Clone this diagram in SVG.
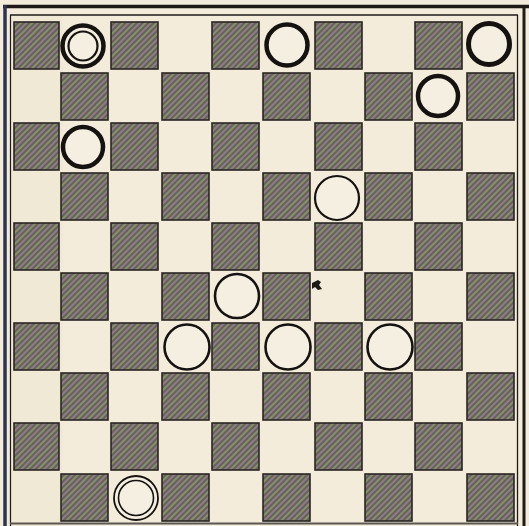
<svg xmlns="http://www.w3.org/2000/svg" width="529" height="526" viewBox="0 0 529 526">
<defs>
<pattern id="hatch" patternUnits="userSpaceOnUse" width="8" height="8" patternTransform="rotate(-45)">
<rect width="8" height="8" fill="#a29b89"/>
<line x1="0" y1="1" x2="8" y2="1" stroke="#3e3a3a" stroke-width="1.2"/>
<line x1="0" y1="3" x2="8" y2="3" stroke="#7a5e84" stroke-width="1"/>
<line x1="0" y1="5" x2="8" y2="5" stroke="#3e3a3a" stroke-width="1.2"/>
<line x1="0" y1="7" x2="8" y2="7" stroke="#6d8450" stroke-width="1"/>
</pattern>
</defs>
<style>
.sq{fill:url(#hatch);stroke:#2a2522;stroke-width:1.6}
.man{fill:#f5efe2;stroke:#161210}
.frame{stroke:#1e1a18;fill:none}
</style>
<rect width="529" height="526" fill="#f3ecda"/>
<rect x="8" y="15" width="55" height="511" fill="#ebe1c9" opacity="0.3"/>
<g id="frame">
<line class="frame" x1="3" y1="6.5" x2="529" y2="6.5" stroke-width="3.5"/>
<line class="frame" x1="10" y1="15" x2="518" y2="15" stroke-width="1.3"/>
<line x1="5" y1="5" x2="5" y2="526" stroke="#2c3552" stroke-width="3.5"/>
<line class="frame" x1="10.5" y1="15" x2="10.5" y2="526" stroke-width="1.2"/>
<line class="frame" x1="517.5" y1="15" x2="517.5" y2="526" stroke-width="1.3"/>
<line class="frame" x1="524" y1="6" x2="524" y2="526" stroke-width="3"/>
<line x1="10" y1="523.5" x2="518" y2="523.5" stroke="#5a5652" stroke-width="2"/>
</g>
<g id="squares">
<g id="row0"><rect class="sq" x="14" y="22" width="45" height="47"/><rect class="sq" x="111" y="22" width="47" height="47"/><rect class="sq" x="212" y="22" width="47" height="47"/><rect class="sq" x="315" y="22" width="47" height="47"/><rect class="sq" x="415" y="22" width="47" height="47"/></g>
<g id="row1"><rect class="sq" x="61" y="73" width="47" height="47"/><rect class="sq" x="162" y="73" width="47" height="47"/><rect class="sq" x="263" y="73" width="47" height="47"/><rect class="sq" x="365" y="73" width="47" height="47"/><rect class="sq" x="467" y="73" width="47" height="47"/></g>
<g id="row2"><rect class="sq" x="14" y="123" width="45" height="47"/><rect class="sq" x="111" y="123" width="47" height="47"/><rect class="sq" x="212" y="123" width="47" height="47"/><rect class="sq" x="315" y="123" width="47" height="47"/><rect class="sq" x="415" y="123" width="47" height="47"/></g>
<g id="row3"><rect class="sq" x="61" y="173" width="47" height="47"/><rect class="sq" x="162" y="173" width="47" height="47"/><rect class="sq" x="263" y="173" width="47" height="47"/><rect class="sq" x="365" y="173" width="47" height="47"/><rect class="sq" x="467" y="173" width="47" height="47"/></g>
<g id="row4"><rect class="sq" x="14" y="223" width="45" height="47"/><rect class="sq" x="111" y="223" width="47" height="47"/><rect class="sq" x="212" y="223" width="47" height="47"/><rect class="sq" x="315" y="223" width="47" height="47"/><rect class="sq" x="415" y="223" width="47" height="47"/></g>
<g id="row5"><rect class="sq" x="61" y="273" width="47" height="47"/><rect class="sq" x="162" y="273" width="47" height="47"/><rect class="sq" x="263" y="273" width="47" height="47"/><rect class="sq" x="365" y="273" width="47" height="47"/><rect class="sq" x="467" y="273" width="47" height="47"/></g>
<g id="row6"><rect class="sq" x="14" y="323" width="45" height="47"/><rect class="sq" x="111" y="323" width="47" height="47"/><rect class="sq" x="212" y="323" width="47" height="47"/><rect class="sq" x="315" y="323" width="47" height="47"/><rect class="sq" x="415" y="323" width="47" height="47"/></g>
<g id="row7"><rect class="sq" x="61" y="373" width="47" height="47"/><rect class="sq" x="162" y="373" width="47" height="47"/><rect class="sq" x="263" y="373" width="47" height="47"/><rect class="sq" x="365" y="373" width="47" height="47"/><rect class="sq" x="467" y="373" width="47" height="47"/></g>
<g id="row8"><rect class="sq" x="14" y="423" width="45" height="47"/><rect class="sq" x="111" y="423" width="47" height="47"/><rect class="sq" x="212" y="423" width="47" height="47"/><rect class="sq" x="315" y="423" width="47" height="47"/><rect class="sq" x="415" y="423" width="47" height="47"/></g>
<g id="row9"><rect class="sq" x="61" y="474" width="47" height="47"/><rect class="sq" x="162" y="474" width="47" height="47"/><rect class="sq" x="263" y="474" width="47" height="47"/><rect class="sq" x="365" y="474" width="47" height="47"/><rect class="sq" x="467" y="474" width="47" height="47"/></g>
</g>
<path d="M312 283 l6 -3 l3 2 l-2 3 l3 4 l-4 1 l-3 -3 l-3 2 z" fill="#1e1a18"/>
<g id="pieces">
<g id="king-b1"><circle class="man" cx="83" cy="46" r="20.5" stroke-width="4.5"/><circle cx="83" cy="46" r="14.5" fill="none" stroke="#161210" stroke-width="2.2"/></g>
<g id="man-f1"><circle class="man" cx="287" cy="45" r="20.5" stroke-width="4.5"/></g>
<g id="man-j1"><circle class="man" cx="489" cy="44" r="20.5" stroke-width="5"/></g>
<g id="man-i2"><circle class="man" cx="438" cy="96" r="20" stroke-width="4.5"/></g>
<g id="man-b3"><circle class="man" cx="83" cy="147" r="20" stroke-width="4.5"/></g>
<g id="man-g4"><circle class="man" cx="337" cy="198" r="22" stroke-width="2.2"/></g>
<g id="man-e6"><circle class="man" cx="237" cy="296" r="22" stroke-width="2.6"/></g>
<g id="man-d7"><circle class="man" cx="187" cy="347" r="22.5" stroke-width="2.6"/></g>
<g id="man-f7"><circle class="man" cx="288" cy="347" r="22.5" stroke-width="2.6"/></g>
<g id="man-h7"><circle class="man" cx="390" cy="347" r="22.5" stroke-width="2.6"/></g>
<g id="king-c10"><circle class="man" cx="136" cy="498" r="22" stroke-width="1.8"/><circle cx="136" cy="498" r="17.5" fill="none" stroke="#161210" stroke-width="1.6"/></g>
</g>
<g id="connectors"/>
</svg>
